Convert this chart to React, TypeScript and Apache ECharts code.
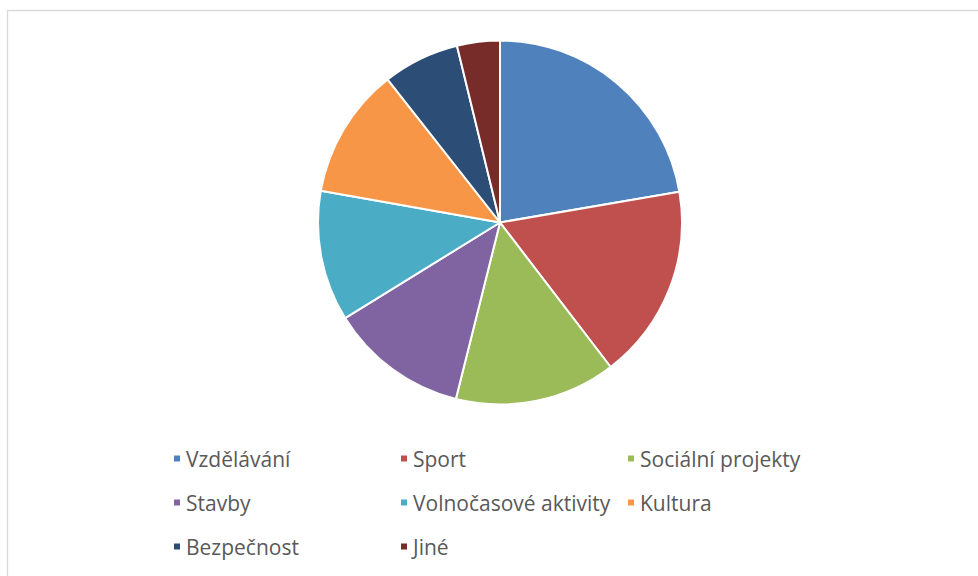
import React, { useEffect, useRef } from "react";
import * as echarts from "echarts";

const categories = [
  "Vzdělávání",
  "Sport",
  "Sociální projekty",
  "Stavby",
  "Volnočasové aktivity",
  "Kultura",
  "Bezpečnost",
  "Jiné",
];
const values = [22.3, 17.3, 14.3, 12.3, 11.6, 11.6, 6.8, 3.8];
const colors = ["#4F81BD", "#C0504D", "#9BBB59", "#8064A2", "#4BACC6", "#F79646", "#2C4D75", "#772C2A"];

const legendColumns = [
  [categories[0], categories[3], categories[6]],
  [categories[1], categories[4], categories[7]],
  [categories[2], categories[5]],
];

export default function App() {
  const ref = useRef<HTMLDivElement>(null);
  useEffect(() => {
    if (!ref.current) return;
    const chart = echarts.init(ref.current, null, { renderer: "svg" });
    const fontFamily = "'Open Sans', 'Noto Sans', sans-serif";
    chart.setOption({
      animation: false,
      color: colors,
      graphic: [
        {
          type: "rect",
          shape: { x: 7.5, y: 10.5, width: 1000, height: 700 },
          style: { fill: "none", stroke: "#D9D9D9", lineWidth: 1.3 },
          silent: true,
        },
      ],
      legend: legendColumns.map((col, i) => ({
        orient: "vertical",
        left: 172 + i * 227,
        top: 448,
        padding: 0,
        itemWidth: 8,
        itemHeight: 8,
        itemGap: 23,
        icon: "rect",
        selectedMode: false,
        data: col,
        textStyle: {
          color: "#595959",
          fontSize: 21,
          lineHeight: 21,
          fontFamily,
        },
      })),
      series: [
        {
          type: "pie",
          center: [500, 222.5],
          radius: [0, 182],
          startAngle: 90,
          clockwise: true,
          label: { show: false },
          labelLine: { show: false },
          emphasis: { disabled: true },
          itemStyle: { borderColor: "#FFFFFF", borderWidth: 2 },
          data: categories.map((name, i) => ({ name, value: values[i] })),
        },
      ],
    });
    return () => chart.dispose();
  }, []);
  return (
    <div
      ref={ref}
      style={{ position: "fixed", left: 0, top: 0, width: 978, height: 576, background: "#FFFFFF" }}
    />
  );
}
